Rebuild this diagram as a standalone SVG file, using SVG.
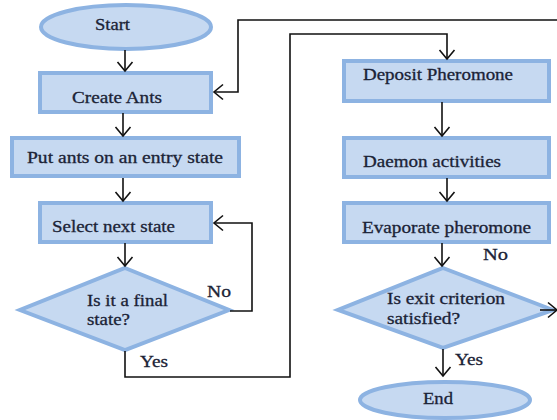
<svg xmlns="http://www.w3.org/2000/svg" width="557" height="420" viewBox="0 0 557 420">
<defs>
<marker id="arr" markerUnits="userSpaceOnUse" markerWidth="20" markerHeight="20" viewBox="-12 -10 14 20" refX="0" refY="0" orient="auto">
<path d="M-9,-7.5 L0,0 L-9,7.5" fill="none" stroke="#111" stroke-width="1.6"/>
</marker>
</defs>
<style>
.n{fill:#c6d9f1;stroke:#8db3e2;stroke-width:4}
.t{font-family:"Liberation Serif","Times New Roman",serif;font-size:16px;fill:#1b2336;stroke:#1b2336;stroke-width:0.3}
.c{fill:none;stroke:#111;stroke-width:1.6}
</style>
<rect width="557" height="420" fill="#fff"/>
<g id="start"><ellipse class="n" cx="126" cy="27" rx="85" ry="22"/><text class="t" x="95" y="30" textLength="35" lengthAdjust="spacingAndGlyphs">Start</text></g>
<g id="create"><rect class="n" x="40" y="73" width="171" height="39"/><text class="t" x="72" y="103" textLength="90" lengthAdjust="spacingAndGlyphs">Create Ants</text></g>
<g id="put"><rect class="n" x="12" y="138" width="227" height="38"/><text class="t" x="27" y="163" textLength="196" lengthAdjust="spacingAndGlyphs">Put ants on an entry state</text></g>
<g id="select"><rect class="n" x="40" y="203" width="171" height="39"/><text class="t" x="52" y="232" textLength="123" lengthAdjust="spacingAndGlyphs">Select next state</text></g>
<g id="final"><polygon class="n" points="125,268 229,310 125,350 20,310"/><text class="t" x="87" y="306" textLength="81" lengthAdjust="spacingAndGlyphs">Is it a final</text><text class="t" x="87" y="325" textLength="43" lengthAdjust="spacingAndGlyphs">state?</text></g>
<g id="deposit"><rect class="n" x="344" y="61" width="205" height="40"/><text class="t" x="363" y="80" textLength="150" lengthAdjust="spacingAndGlyphs">Deposit Pheromone</text></g>
<g id="daemon"><rect class="n" x="344" y="138" width="205" height="39"/><text class="t" x="363" y="167" textLength="138" lengthAdjust="spacingAndGlyphs">Daemon activities</text></g>
<g id="evaporate"><rect class="n" x="344" y="203" width="205" height="39"/><text class="t" x="362" y="233" textLength="169" lengthAdjust="spacingAndGlyphs">Evaporate pheromone</text></g>
<g id="exit"><polygon class="n" points="443,268 553,310 443,348 338,310"/><text class="t" x="387" y="304" textLength="118" lengthAdjust="spacingAndGlyphs">Is exit criterion</text><text class="t" x="387" y="324" textLength="73" lengthAdjust="spacingAndGlyphs">satisfied?</text></g>
<g id="end"><ellipse class="n" cx="445" cy="400" rx="85" ry="18"/><text class="t" x="423" y="404" textLength="30" lengthAdjust="spacingAndGlyphs">End</text></g>
<g id="connectors">
<line class="c" x1="125" y1="50" x2="125" y2="71" marker-end="url(#arr)"/>
<line class="c" x1="123" y1="113" x2="123" y2="136" marker-end="url(#arr)"/>
<line class="c" x1="123" y1="178" x2="123" y2="201" marker-end="url(#arr)"/>
<line class="c" x1="125" y1="243" x2="125" y2="266" marker-end="url(#arr)"/>
<polyline class="c" points="230,311 252,311 252,223 214,223" marker-end="url(#arr)"/>
<polyline class="c" points="125,351 125,377 290,377 290,34 447,34 447,59" marker-end="url(#arr)"/>
<polyline class="c" points="557,20 238,20 238,92 214,92" stroke="#222" stroke-width="2" marker-end="url(#arr)"/>
<line class="c" x1="442" y1="102" x2="442" y2="136" marker-end="url(#arr)"/>
<line class="c" x1="447" y1="178" x2="447" y2="201" marker-end="url(#arr)"/>
<line class="c" x1="442" y1="243" x2="442" y2="266" marker-end="url(#arr)"/>
<line class="c" x1="540" y1="310" x2="557" y2="310" marker-end="url(#arr)"/>
<line class="c" x1="443" y1="349" x2="443" y2="376" marker-end="url(#arr)"/>
<text class="t" x="207" y="297" textLength="24" lengthAdjust="spacingAndGlyphs">No</text>
<text class="t" x="140" y="367" textLength="28" lengthAdjust="spacingAndGlyphs">Yes</text>
<text class="t" x="483" y="260" textLength="25" lengthAdjust="spacingAndGlyphs">No</text>
<text class="t" x="455" y="365" textLength="28" lengthAdjust="spacingAndGlyphs">Yes</text>
</g>
</svg>
